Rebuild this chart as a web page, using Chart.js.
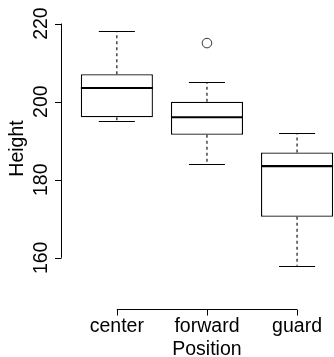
<!DOCTYPE html>
<html lang="en">
<head>
    <meta charset="UTF-8">
    <title>Height by Position</title>
    <script src="https://cdn.jsdelivr.net/npm/chart.js"></script>
    <style>
        html, body { margin: 0; padding: 0; background: #fff; }
        canvas { display: block; }
    </style>
</head>
<body>
    <canvas id="boxplot" width="334" height="357"></canvas>

    <script>
        // Five-number summaries per position
        const positions = ['center', 'forward', 'guard'];
        const whiskerLow = [195, 184, 158];
        const lowerQuartile = [196, 191.5, 170.5];
        const medians = [203.5, 196, 183.5];
        const upperQuartile = [207, 200, 187];
        const whiskerHigh = [218, 205, 192];
        const outliers = [null, 215, null];
        const yTicks = [160, 180, 200, 220];

        const FONT = '19.5px "Liberation Sans", Arial, sans-serif';

        // Whiskers, caps, medians and the R-style axes
        const boxExtras = {
            id: 'boxExtras',
            afterDatasetsDraw(chart) {
                const ctx = chart.ctx;
                const x = chart.scales.x;
                const y = chart.scales.y;
                const bars = chart.getDatasetMeta(0).data;
                ctx.save();
                ctx.strokeStyle = '#000';

                positions.forEach(function (p, i) {
                    const bar = bars[i];
                    const cx = x.getPixelForValue(i + 1);
                    const half = bar.width / 2;

                    // dashed whiskers
                    ctx.lineWidth = 1.1;
                    ctx.setLineDash([3, 3]);
                    ctx.beginPath();
                    ctx.moveTo(cx, y.getPixelForValue(upperQuartile[i]));
                    ctx.lineTo(cx, y.getPixelForValue(whiskerHigh[i]));
                    ctx.moveTo(cx, y.getPixelForValue(lowerQuartile[i]));
                    ctx.lineTo(cx, y.getPixelForValue(whiskerLow[i]));
                    ctx.stroke();
                    ctx.setLineDash([]);

                    // caps, half the box width
                    ctx.lineWidth = 1.2;
                    ctx.beginPath();
                    [whiskerHigh[i], whiskerLow[i]].forEach(function (v) {
                        const py = Math.round(y.getPixelForValue(v)) + 0.5;
                        ctx.moveTo(cx - half / 2, py);
                        ctx.lineTo(cx + half / 2, py);
                    });
                    ctx.stroke();

                    // median
                    ctx.lineWidth = 2.2;
                    ctx.beginPath();
                    const my = y.getPixelForValue(medians[i]);
                    ctx.moveTo(cx - half, my);
                    ctx.lineTo(cx + half, my);
                    ctx.stroke();
                });

                ctx.fillStyle = '#000';
                ctx.font = FONT;
                ctx.lineWidth = 1;

                // y axis
                const left = chart.chartArea.left + 0.5;
                ctx.beginPath();
                ctx.moveTo(left, y.getPixelForValue(yTicks[0]));
                ctx.lineTo(left, y.getPixelForValue(yTicks[yTicks.length - 1]));
                yTicks.forEach(function (t) {
                    const py = Math.round(y.getPixelForValue(t)) + 0.5;
                    ctx.moveTo(left, py);
                    ctx.lineTo(left - 6.5, py);
                });
                ctx.stroke();
                ctx.textAlign = 'center';
                ctx.textBaseline = 'alphabetic';
                yTicks.forEach(function (t) {
                    ctx.save();
                    ctx.translate(47, y.getPixelForValue(t));
                    ctx.rotate(-Math.PI / 2);
                    ctx.fillText(String(t), 0, 0);
                    ctx.restore();
                });
                ctx.save();
                ctx.translate(22.5, (chart.chartArea.top + chart.chartArea.bottom) / 2);
                ctx.rotate(-Math.PI / 2);
                ctx.fillText('Height', 0, 0);
                ctx.restore();

                // x axis
                const axisY = 309.5;
                ctx.beginPath();
                ctx.moveTo(x.getPixelForValue(1), axisY);
                ctx.lineTo(x.getPixelForValue(positions.length), axisY);
                positions.forEach(function (p, i) {
                    const px = Math.round(x.getPixelForValue(i + 1)) + 0.5;
                    ctx.moveTo(px, axisY);
                    ctx.lineTo(px, axisY + 6);
                });
                ctx.stroke();
                positions.forEach(function (p, i) {
                    ctx.fillText(p, x.getPixelForValue(i + 1), 332);
                });
                ctx.fillText('Position', x.getPixelForValue(2), 355);

                ctx.restore();
            }
        };

        const ctx = document.getElementById('boxplot').getContext('2d');
        new Chart(ctx, {
            data: {
                datasets: [{
                    type: 'bar',
                    data: positions.map(function (p, i) {
                        return { x: i + 1, y: [lowerQuartile[i], upperQuartile[i]] };
                    }),
                    backgroundColor: '#fff',
                    borderColor: '#000',
                    borderWidth: 1.3,
                    borderSkipped: false,
                    barPercentage: 0.8,
                    categoryPercentage: 1.0
                }, {
                    type: 'scatter',
                    data: outliers.map(function (v, i) {
                        return v === null ? null : { x: i + 1, y: v };
                    }).filter(function (d) { return d !== null; }),
                    pointStyle: 'circle',
                    pointRadius: 4.8,
                    pointBackgroundColor: '#fff',
                    pointBorderColor: '#333',
                    pointBorderWidth: 1
                }]
            },
            options: {
                responsive: false,
                animation: false,
                layout: { autoPadding: false, padding: { left: 61, right: 0, top: 22, bottom: 82 } },
                plugins: { legend: { display: false }, tooltip: { enabled: false } },
                scales: {
                    x: {
                        type: 'linear', min: 0.38, max: 3.41, offset: false, display: false,
                        // one tick per position, so bar width follows the group spacing
                        afterBuildTicks: function (scale) {
                            scale.ticks = positions.map(function (p, i) { return { value: i + 1 }; });
                        }
                    },
                    y: { type: 'linear', min: 155.6, max: 220.4, display: false }
                }
            },
            plugins: [boxExtras]
        });
    </script>
</body>
</html>
